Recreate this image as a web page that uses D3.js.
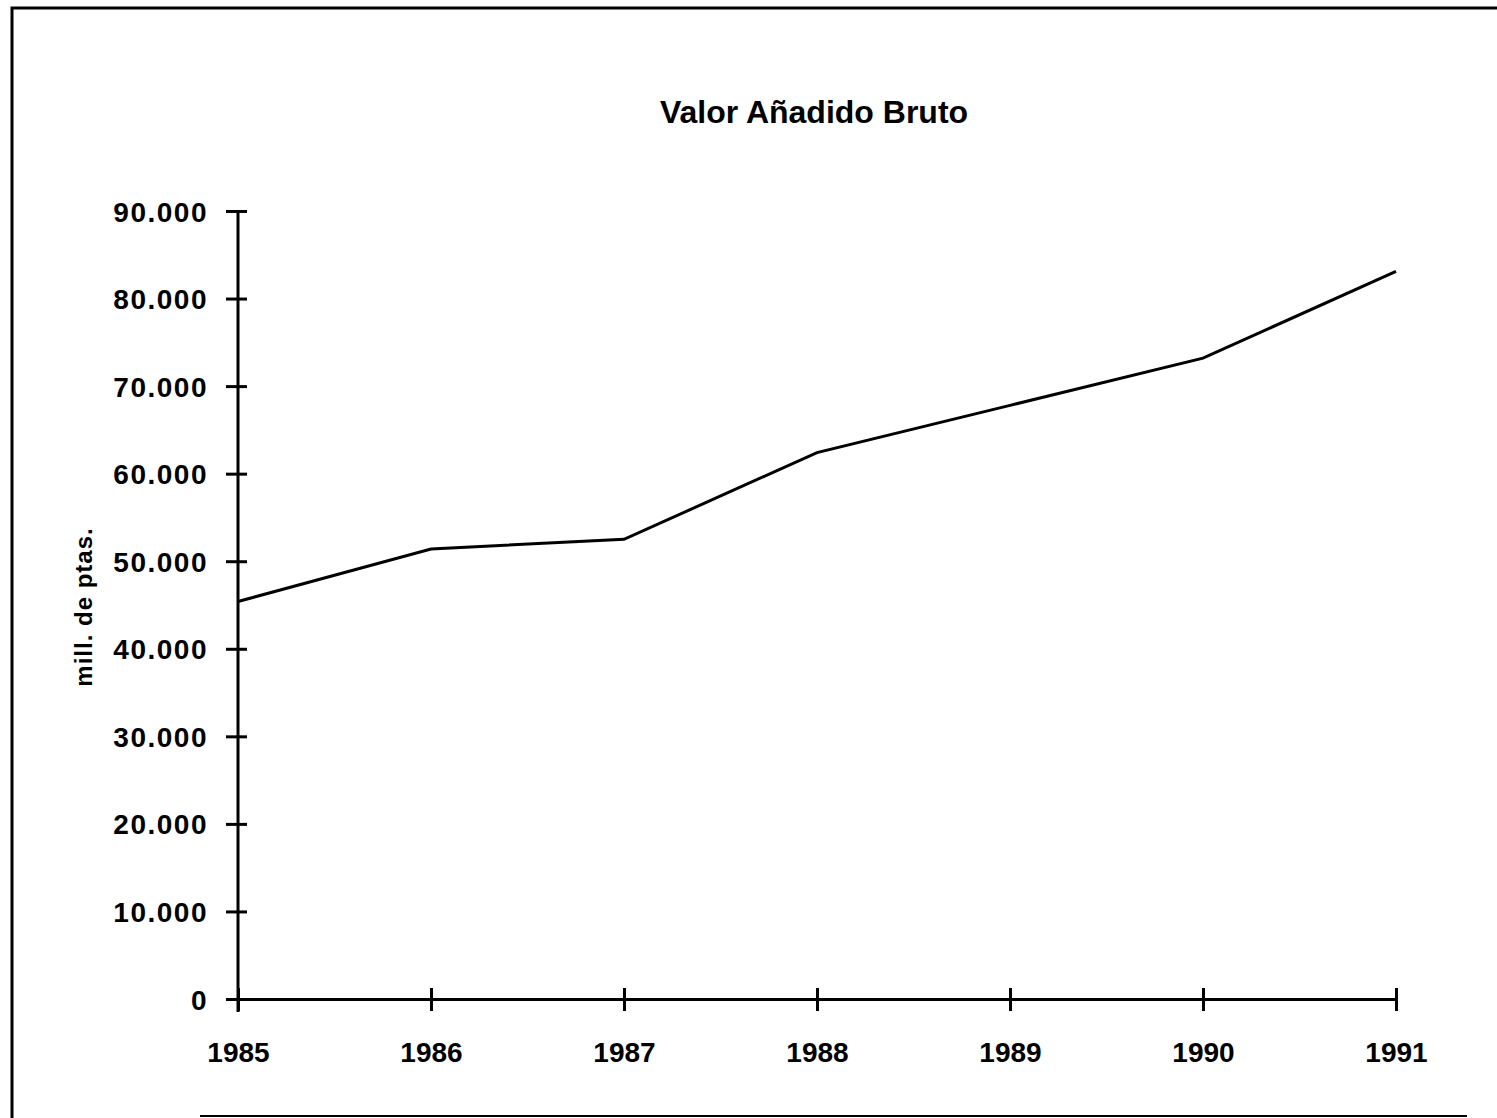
<!DOCTYPE html>
<html>
<head>
    <meta charset="utf-8">
    <script type="text/javascript" src="https://cdn.jsdelivr.net/npm/d3@7/dist/d3.min.js"></script>
    <style>
body {
	margin: 0;
	background: #fff;
}

svg {
	background: #fff;
	font-family: "Liberation Sans", Arial, Helvetica, sans-serif;
	font-weight: bold;
}

.axis path,
.axis line {
	stroke: #000;
	stroke-width: 3;
}

.axis text {
	fill: #000;
	font-size: 28px;
	font-weight: bold;
}

.vabLine {
	fill: none;
	stroke: #000;
	stroke-width: 3;
}
    </style>
</head>
<body>
	<svg class="chart" width="1497" height="1118"></svg>

    <script type="text/javascript">

	// Valor Añadido Bruto, mill. de ptas.
	var years = [1985, 1986, 1987, 1988, 1989, 1990, 1991];
	var values = [45400, 51400, 52500, 62400, 67800, 73200, 83100];
	var yTicks = [0, 10000, 20000, 30000, 40000, 50000, 60000, 70000, 80000, 90000];

	var title = "Valor Añadido Bruto",
		yLabel = "mill. de ptas.";

	var svg = d3.select(".chart");

	var xScale = d3.scaleLinear()
		.domain([1985, 1991])
		.range([238, 1396]);

	var yScale = d3.scaleLinear()
		.domain([0, 90000])
		.range([999, 211]);

	// spanish style thousands: 90.000
	var fmt = function(d) { return d === 0 ? "0" : d3.format(",")(d).replace(/,/g, "."); };

	// frame (scanned page, open on the right)
	svg.append("path")
		.attr("d", "M12,1118 L12,8 L1497,8")
		.attr("fill", "none")
		.attr("stroke", "#000")
		.attr("stroke-width", 3);
	svg.append("line")
		.attr("x1", 200).attr("x2", 1467)
		.attr("y1", 1116).attr("y2", 1116)
		.attr("stroke", "#000")
		.attr("stroke-width", 2);

	svg.append("text")
		.attr("x", 814)
		.attr("y", 123)
		.attr("text-anchor", "middle")
		.attr("font-size", 32)
		.text(title);

	svg.append("text")
		.attr("transform", "translate(92,607) rotate(-90)")
		.attr("text-anchor", "middle")
		.attr("font-size", 24)
		.attr("letter-spacing", 1)
		.text(yLabel);

	var yAxis = svg.append("g")
		.attr("class", "axis yAxis")
		.attr("transform", "translate(" + xScale(1985) + ",0)")
		.call(d3.axisLeft(yScale).tickValues(yTicks).tickFormat(fmt).tickSizeOuter(0));
	yAxis.selectAll(".tick line").attr("x1", 9).attr("x2", -12);
	yAxis.selectAll(".tick text").attr("x", -30).attr("dy", "0.36em").attr("letter-spacing", 1.5);
	yAxis.select(".domain").attr("d", "M0," + yScale(90000) + "V1012");

	var xAxis = svg.append("g")
		.attr("class", "axis xAxis")
		.attr("transform", "translate(0," + yScale(0) + ")")
		.call(d3.axisBottom(xScale).tickValues(years).tickFormat(d3.format("d")).tickSizeOuter(0));
	xAxis.selectAll(".tick line").attr("y1", -11).attr("y2", 12);
	xAxis.selectAll(".tick text").attr("y", 63).attr("dy", 0);

	var line = d3.line()
		.x(function(d, i) { return xScale(years[i]); })
		.y(function(d) { return yScale(d); });

	svg.append("path")
		.datum(values)
		.attr("class", "vabLine")
		.attr("d", line);
	</script>
</body>
</html>
